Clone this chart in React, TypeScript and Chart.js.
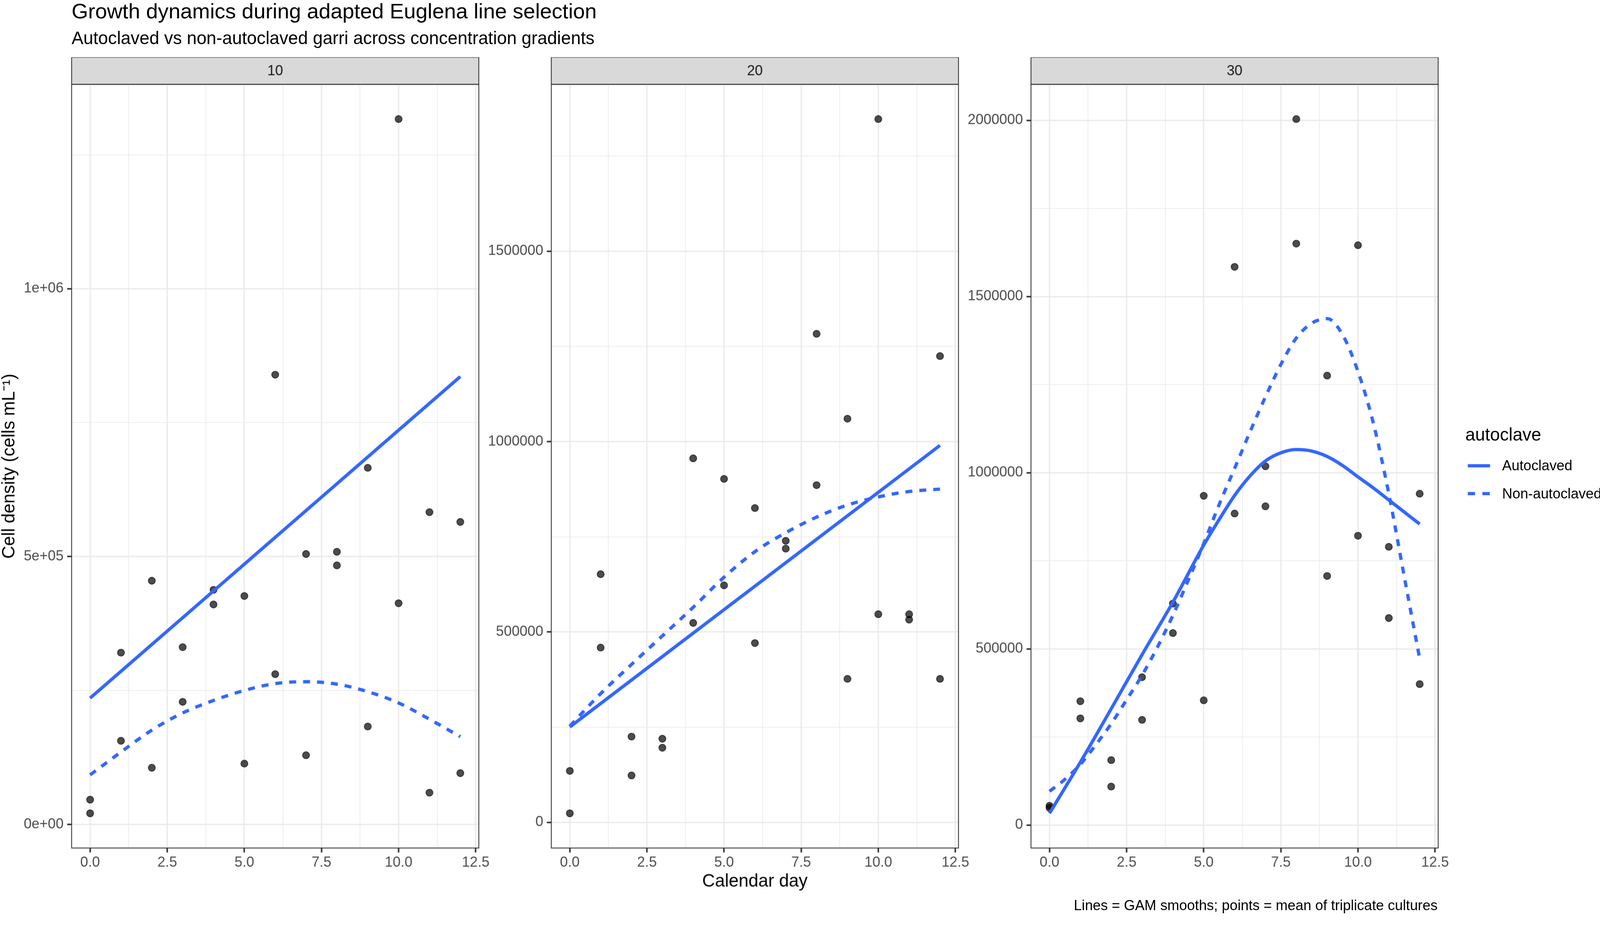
import React, { useEffect, useRef } from "react";
import { Chart, registerables } from "chart.js";

Chart.register(...registerables);

const FONT = '"Liberation Sans", Arial, Helvetica, sans-serif';
Chart.defaults.font.family = FONT;

// ---------------- data ----------------
const panelLabels = ["10", "20", "30"];

const xTickValues = [0, 2.5, 5, 7.5, 10, 12.5];
const xMinorValues = [1.25, 3.75, 6.25, 8.75, 11.25];

// two culture means per calendar day
const pointDays = [0, 0, 1, 1, 2, 2, 3, 3, 4, 4, 5, 5, 6, 6, 7, 7, 8, 8, 9, 9, 10, 10, 11, 11, 12, 12];

const density10 = [
  46500, 21000, 320800, 156300, 455000, 106000, 331000, 229000, 438000, 410700,
  426500, 113700, 839500, 280600, 505000, 129400, 509000, 483700, 665700, 183000,
  1316500, 413000, 583000, 59500, 564700, 96000,
];
const density20 = [
  135100, 23700, 651700, 458900, 225100, 123200, 219600, 195900, 956000, 523700,
  902000, 622400, 825400, 470800, 739300, 718800, 1283000, 885500, 1060000, 376800,
  1847000, 546600, 546600, 532400, 1224500, 376800,
];
const density30 = [
  54600, 48600, 351300, 302600, 184100, 109100, 419500, 298400, 628400, 544800,
  934300, 353800, 1584000, 884000, 1018000, 904500, 2003500, 1650000, 1275400, 706800,
  1645400, 821000, 789500, 587400, 940300, 399800,
];

// GAM smooth curves
const autoDays10 = [0, 12];
const autoSmooth10 = [236000, 836000];
const nonDays10 = [0, 1, 2, 3, 4, 5, 6, 7, 8, 9, 10, 11, 12];
const nonSmooth10 = [92800, 135400, 176200, 208300, 231600, 250300, 263100, 266600, 262000, 248000, 227000, 196600, 164000];

const autoDays20 = [0, 12];
const autoSmooth20 = [250400, 990000];
const nonDays20 = [0, 1, 2, 3, 4, 5, 6, 7, 8, 9, 10, 11, 12];
const nonSmooth20 = [252800, 338100, 414700, 489700, 564800, 643800, 710900, 760700, 801700, 833300, 854700, 868900, 875200];

const autoDays30 = [0, 1, 2, 3, 4, 5, 5.5, 6, 6.5, 7, 7.5, 8, 8.5, 9, 9.5, 10, 10.5, 11, 11.5, 12];
const autoSmooth30 = [33200, 178200, 329900, 483400, 632600, 794500, 867000, 935200, 990600, 1033200, 1056300, 1065600, 1061300, 1046000, 1020400, 988000, 956500, 922400, 888300, 854200];
const nonDays30 = [0, 0.5, 1, 1.5, 2, 2.5, 3, 3.5, 4, 4.5, 5, 5.5, 6, 6.5, 7, 7.5, 8, 8.5, 9, 9.5, 10, 10.5, 11, 11.5, 12];
const nonSmooth30 = [95500, 129600, 172200, 227600, 287300, 355500, 425000, 505000, 595000, 695000, 798800, 909700, 1012000, 1115700, 1215000, 1307000, 1381900, 1424000, 1437000, 1391500, 1287000, 1140000, 940000, 705000, 472000];

const yTicks10 = [0, 500000, 1000000];
const yTickLabels10 = ["0e+00", "5e+05", "1e+06"];
const yMinor10 = [250000, 750000, 1250000];

const yTicks20 = [0, 500000, 1000000, 1500000];
const yTickLabels20 = ["0", "500000", "1000000", "1500000"];
const yMinor20 = [250000, 750000, 1250000, 1750000];

const yTicks30 = [0, 500000, 1000000, 1500000, 2000000];
const yTickLabels30 = ["0", "500000", "1000000", "1500000", "2000000"];
const yMinor30 = [250000, 750000, 1250000, 1750000];

const seriesNames = ["Autoclaved", "Non-autoclaved"];

// ---------------- layout / style ----------------
const PAGE_W = 4136;
const PAGE_H = 2368;
const PANEL_LEFTS = [185, 1425, 2665];
const PANEL_W = 1052;
const STRIP_TOP = 148;
const STRIP_H = 70;
const PANEL_BOTTOM = 2192;
const AXIS_W = 185;
const XAXIS_H = 115;
const RIGHT_PAD = 36;
const CANVAS_W = AXIS_W + PANEL_W + RIGHT_PAD;
const CANVAS_H = PANEL_BOTTOM - STRIP_TOP + XAXIS_H;

const BLUE = "#3366FF";
const LINE_W = 8.5;
const DASH = [18, 18];
const TICK_FONT = 36.7;
const TITLE_FONT = 45.8;

type Panel = {
  label: string;
  density: number[];
  autoDays: number[];
  autoVals: number[];
  nonDays: number[];
  nonVals: number[];
  yTicks: number[];
  yLabels: string[];
  yMinor: number[];
};

const panels: Panel[] = [
  { label: panelLabels[0], density: density10, autoDays: autoDays10, autoVals: autoSmooth10, nonDays: nonDays10, nonVals: nonSmooth10, yTicks: yTicks10, yLabels: yTickLabels10, yMinor: yMinor10 },
  { label: panelLabels[1], density: density20, autoDays: autoDays20, autoVals: autoSmooth20, nonDays: nonDays20, nonVals: nonSmooth20, yTicks: yTicks20, yLabels: yTickLabels20, yMinor: yMinor20 },
  { label: panelLabels[2], density: density30, autoDays: autoDays30, autoVals: autoSmooth30, nonDays: nonDays30, nonVals: nonSmooth30, yTicks: yTicks30, yLabels: yTickLabels30, yMinor: yMinor30 },
];

const stripPlugin = {
  id: "facetStrip",
  beforeDraw(chart: any, _args: any, opts: any) {
    const { ctx, chartArea } = chart;
    ctx.save();
    ctx.fillStyle = "#D9D9D9";
    ctx.fillRect(chartArea.left, chartArea.top - STRIP_H, chartArea.right - chartArea.left, STRIP_H);
    ctx.strokeStyle = "#333333";
    ctx.lineWidth = 2.2;
    ctx.strokeRect(chartArea.left, chartArea.top - STRIP_H, chartArea.right - chartArea.left, STRIP_H);
    ctx.fillStyle = "#1A1A1A";
    ctx.font = `${TICK_FONT}px ${FONT}`;
    ctx.textAlign = "center";
    ctx.textBaseline = "middle";
    ctx.fillText(opts.text, (chartArea.left + chartArea.right) / 2, chartArea.top - STRIP_H / 2 + 1);
    ctx.restore();
  },
};

const borderPlugin = {
  id: "panelBorder",
  afterDatasetsDraw(chart: any) {
    const { ctx, chartArea } = chart;
    ctx.save();
    ctx.strokeStyle = "#333333";
    ctx.lineWidth = 2.2;
    ctx.strokeRect(chartArea.left, chartArea.top, chartArea.right - chartArea.left, chartArea.bottom - chartArea.top);
    ctx.restore();
  },
};

function expandRange(values: number[]): [number, number] {
  const lo = Math.min(...values);
  const hi = Math.max(...values);
  const pad = (hi - lo) * 0.05;
  return [lo - pad, hi + pad];
}

function buildConfig(p: Panel, idx: number, dpr: number): any {
  const points = pointDays.map((d, i) => ({ x: d, y: p.density[i] }));
  const autoPts = p.autoDays.map((d, i) => ({ x: d, y: p.autoVals[i] }));
  const nonPts = p.nonDays.map((d, i) => ({ x: d, y: p.nonVals[i] }));
  const [xMin, xMax] = expandRange([...pointDays, ...p.autoDays, ...p.nonDays]);
  const [yMin, yMax] = expandRange([...p.density, ...p.autoVals, ...p.nonVals]);
  const allX = [...xTickValues, ...xMinorValues].sort((a, b) => a - b);
  const allY = [...p.yTicks, ...p.yMinor].filter((v) => v >= yMin && v <= yMax).sort((a, b) => a - b);

  const isMajorX = (v: number) => xTickValues.includes(v);
  const isMajorY = (v: number) => p.yTicks.includes(v);

  return {
    type: "scatter",
    data: {
      datasets: [
        {
          type: "line",
          label: seriesNames[0],
          data: autoPts,
          borderColor: BLUE,
          borderWidth: LINE_W,
          borderCapStyle: "butt",
          pointRadius: 0,
          fill: false,
          cubicInterpolationMode: "monotone",
          order: 0,
        },
        {
          type: "line",
          label: seriesNames[1],
          data: nonPts,
          borderColor: BLUE,
          borderWidth: LINE_W,
          borderDash: DASH,
          borderCapStyle: "butt",
          pointRadius: 0,
          fill: false,
          cubicInterpolationMode: "monotone",
          order: 1,
        },
        {
          type: "scatter",
          label: "Mean of triplicate cultures",
          data: points,
          backgroundColor: "rgba(0,0,0,0.7)",
          borderColor: "rgba(0,0,0,0.7)",
          borderWidth: 2,
          pointRadius: 9,
          order: 2,
        },
      ],
    },
    options: {
      responsive: false,
      maintainAspectRatio: false,
      animation: false,
      devicePixelRatio: dpr,
      events: [],
      layout: { padding: { top: STRIP_H, right: RIGHT_PAD, left: 0, bottom: 0 } },
      plugins: {
        legend: { display: false },
        tooltip: { enabled: false },
        title: { display: false },
        facetStrip: { text: p.label },
      },
      scales: {
        x: {
          type: "linear",
          min: xMin,
          max: xMax,
          afterBuildTicks: (s: any) => {
            s.ticks = allX.map((v) => ({ value: v }));
          },
          afterFit: (s: any) => {
            s.height = XAXIS_H;
          },
          border: { display: false },
          grid: {
            color: "#EBEBEB",
            lineWidth: (c: any) => (c.tick && isMajorX(c.tick.value) ? 3.6 : 1.8),
            tickColor: (c: any) => (c.tick && isMajorX(c.tick.value) ? "#333333" : "rgba(0,0,0,0)"),
            tickWidth: 4,
            tickLength: 11.5,
            drawTicks: true,
          },
          ticks: {
            autoSkip: false,
            maxRotation: 0,
            minRotation: 0,
            padding: 4.5,
            color: "#4D4D4D",
            font: { family: FONT, size: TICK_FONT, lineHeight: 1.2 },
            callback: (v: number) => (isMajorX(v) ? v.toFixed(1) : ""),
          },
          title: {
            display: idx === 1,
            text: "Calendar day",
            color: "#000000",
            font: { family: FONT, size: TITLE_FONT, lineHeight: 1.2 },
            padding: { top: 0, bottom: 0 },
          },
        },
        y: {
          type: "linear",
          min: yMin,
          max: yMax,
          afterBuildTicks: (s: any) => {
            s.ticks = allY.map((v) => ({ value: v }));
          },
          afterFit: (s: any) => {
            s.width = AXIS_W;
          },
          border: { display: false },
          grid: {
            color: "#EBEBEB",
            lineWidth: (c: any) => (c.tick && isMajorY(c.tick.value) ? 3.6 : 1.8),
            tickColor: (c: any) => (c.tick && isMajorY(c.tick.value) ? "#333333" : "rgba(0,0,0,0)"),
            tickWidth: 4,
            tickLength: 11.5,
            drawTicks: true,
          },
          ticks: {
            autoSkip: false,
            padding: 9.2,
            color: "#4D4D4D",
            font: { family: FONT, size: TICK_FONT, lineHeight: 1.2 },
            callback: (v: number) => {
              const k = p.yTicks.indexOf(v);
              return k >= 0 ? p.yLabels[k] : "";
            },
          },
          title: {
            display: idx === 0,
            text: "Cell density (cells mL⁻¹)",
            color: "#000000",
            font: { family: FONT, size: TITLE_FONT, lineHeight: 1.1 },
            padding: { top: 0, bottom: 0 },
          },
        },
      },
    },
    plugins: [stripPlugin, borderPlugin],
  };
}

function textStyle(left: number, centerY: number, size: number, lh: number, extra: any = {}): React.CSSProperties {
  return {
    position: "absolute",
    left,
    top: centerY - lh / 2,
    fontSize: size,
    lineHeight: `${lh}px`,
    height: lh,
    whiteSpace: "nowrap",
    fontFamily: FONT,
    color: "#000000",
    ...extra,
  };
}

function viewportScale(): number {
  if (typeof document === "undefined") return 1;
  const de = document.documentElement;
  const w = de.clientWidth || window.innerWidth || PAGE_W;
  const h = de.clientHeight || window.innerHeight || PAGE_H;
  const s = Math.min(w / PAGE_W, h / PAGE_H);
  return s > 0 ? s : 1;
}

export default function App() {
  const r0 = useRef<HTMLCanvasElement>(null);
  const r1 = useRef<HTMLCanvasElement>(null);
  const r2 = useRef<HTMLCanvasElement>(null);
  const refs = [r0, r1, r2];
  const scale = viewportScale();

  useEffect(() => {
    document.documentElement.style.overflow = "hidden";
    document.body.style.overflow = "hidden";
    document.body.style.margin = "0";
    const dpr = (window.devicePixelRatio || 1) * scale;
    const charts: Chart[] = [];
    refs.forEach((r, i) => {
      if (r.current) charts.push(new Chart(r.current, buildConfig(panels[i], i, dpr)));
    });
    return () => charts.forEach((c) => c.destroy());
  }, []);

  return (
    <div
      style={{
        position: "fixed",
        left: 0,
        top: 0,
        width: PAGE_W * scale,
        height: PAGE_H * scale,
        overflow: "hidden",
        background: "#FFFFFF",
      }}
    >
      <div
        style={{
          position: "absolute",
          left: 0,
          top: 0,
          width: PAGE_W,
          height: PAGE_H,
          background: "#FFFFFF",
          fontFamily: FONT,
          transform: `scale(${scale})`,
          transformOrigin: "0 0",
        }}
      >
        <div style={textStyle(185, 28, 55, 56)}>Growth dynamics during adapted Euglena line selection</div>
        <div style={textStyle(185, 99, TITLE_FONT, 48)}>Autoclaved vs non-autoclaved garri across concentration gradients</div>

        {panels.map((p, i) => (
          <canvas
            key={p.label}
            ref={refs[i]}
            width={CANVAS_W}
            height={CANVAS_H}
            style={{
              position: "absolute",
              left: PANEL_LEFTS[i] - AXIS_W,
              top: STRIP_TOP,
              width: CANVAS_W,
              height: CANVAS_H,
            }}
          />
        ))}

        {/* legend */}
        <div style={textStyle(3788, 1124, TITLE_FONT, 48)}>autoclave</div>
        <svg style={{ position: "absolute", left: 3794, top: 1180, width: 58, height: 120 }} width={58} height={120}>
          <line x1={0} y1={24} x2={58} y2={24} stroke={BLUE} strokeWidth={LINE_W} />
          <line x1={0} y1={96} x2={58} y2={96} stroke={BLUE} strokeWidth={LINE_W} strokeDasharray="19 19" />
        </svg>
        <div style={textStyle(3883, 1204, TICK_FONT, 40)}>{seriesNames[0]}</div>
        <div style={textStyle(3883, 1276, TICK_FONT, 40)}>{seriesNames[1]}</div>

        {/* caption */}
        <div style={textStyle(0, 2341, TICK_FONT, 40, { width: 3716, textAlign: "right" })}>
          Lines = GAM smooths; points = mean of triplicate cultures
        </div>
      </div>
    </div>
  );
}
